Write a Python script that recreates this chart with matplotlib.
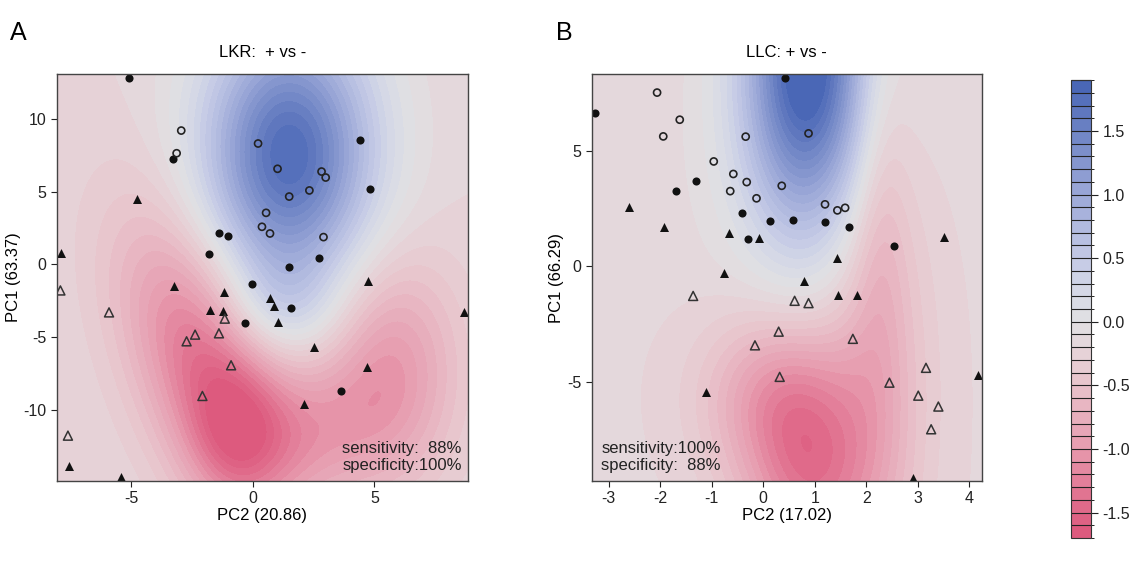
import numpy as np
import matplotlib
matplotlib.use("Agg")
import matplotlib.pyplot as plt
from matplotlib.colors import LinearSegmentedColormap, BoundaryNorm

plt.rcParams['font.family'] = ['Liberation Sans', 'DejaVu Sans']
plt.rcParams['axes.unicode_minus'] = False

# ---- panel A (LKR) points ----
a_fc_x = [-5.08, -3.28, 4.42, 4.83, -1.39, -1.00, -1.81, 2.74, 1.50, -0.04, 1.56, -0.30, 3.62]
a_fc_y = [12.81, 7.24, 8.59, 5.18, 2.15, 1.99, 0.73, 0.46, -0.21, -1.35, -2.98, -4.06, -8.68]
a_oc_x = [-2.94, -3.13, 0.22, 1.02, 2.83, 3.00, 2.33, 1.50, 0.55, 0.38, 0.71, 2.91]
a_oc_y = [9.21, 7.65, 8.32, 6.58, 6.39, 5.98, 5.09, 4.67, 3.55, 2.59, 2.13, 1.88]
a_ft_x = [-4.76, -7.87, -3.22, 4.75, -1.17, -1.77, -1.23, 0.71, 0.88, 1.03, 8.70, 2.50, 4.68, 2.10, -7.57, -5.40]
a_ft_y = [4.49, 0.82, -1.47, -1.15, -1.90, -3.12, -3.18, -2.29, -2.86, -3.99, -3.30, -5.70, -7.08, -9.62, -13.84, -14.64]
a_ot_x = [-7.91, -5.91, -1.15, -2.37, -2.72, -1.39, -0.89, -2.07, -7.60]
a_ot_y = [-1.79, -3.30, -3.73, -4.83, -5.29, -4.74, -6.94, -9.05, -11.78]

# ---- panel B (LLC) points ----
b_fc_x = [0.42, -3.26, -1.31, -1.70, -0.42, 0.13, 0.57, 1.20, 1.66, -0.30, 2.54]
b_fc_y = [8.14, 6.60, 3.68, 3.25, 2.30, 1.97, 2.00, 1.94, 1.70, 1.17, 0.89]
b_oc_x = [-2.06, -1.62, -1.94, -0.34, 0.88, -0.96, -0.58, -0.32, -0.64, -0.13, 0.36, 1.20, 1.44, 1.59]
b_oc_y = [7.50, 6.33, 5.61, 5.60, 5.74, 4.53, 3.99, 3.64, 3.25, 2.94, 3.48, 2.68, 2.42, 2.53]
b_ft_x = [-2.61, -1.92, -0.67, -0.08, 3.51, 1.44, -0.77, 0.80, 1.45, 1.83, -1.12, 4.17, 2.91]
b_ft_y = [2.55, 1.70, 1.45, 1.22, 1.28, 0.35, -0.26, -0.62, -1.21, -1.24, -5.40, -4.68, -9.12]
b_ot_x = [-1.36, 0.61, 0.88, 0.30, -0.16, 1.74, 0.32, 2.45, 3.16, 3.01, 3.40, 3.26]
b_ot_y = [-1.27, -1.48, -1.58, -2.81, -3.40, -3.12, -4.76, -5.01, -4.37, -5.57, -6.04, -7.02]

# ---- background surfaces, described as bumps ----
# centre x, centre y, width x, width y, amplitude, tilt (dx per dy)
a_base = -0.2
a_bx = [1.5, 1.2, -1.9, -0.8, 5.6, 2.0]
a_by = [7.5, -3.0, -7.0, -12.0, -7.0, -11.5]
a_bsx = [2.45, 1.6, 2.1, 1.3, 2.0, 2.5]
a_bsy = [6.5, 2.5, 7.0, 3.5, 5.5, 3.5]
a_bamp = [2.0, 0.35, -1.2, -0.4, -0.8, -0.55]
a_btilt = [0.0, 0.0, -0.18, 0.0, 0.0, 0.0]

b_base = -0.18
b_bx = [0.85, 0.8, 0.9, 0.3, 2.2, 2.25]
b_by = [9.0, 5.0, -9.3, -5.5, -4.0, 3.0]
b_bsx = [0.85, 1.4, 0.9, 1.0, 0.75, 0.4]
b_bsy = [5.0, 4.5, 3.0, 2.5, 7.0, 6.0]
b_bamp = [2.1, 0.2, -0.95, -0.75, -0.45, -0.3]
b_btilt = [0.0, 0.0, 0.0, 0.0, 0.0, 0.0]

cbar_ticks = [-1.5, -1.0, -0.5, 0.0, 0.5, 1.0, 1.5]
levels = np.round(np.arange(-1.7, 1.95, 0.1), 2)

# colour anchors (value, colour)
cmap_vals = [-1.7, -1.5, -1.0, -0.5, -0.2, 0.0, 0.2, 0.5, 1.0, 1.5, 1.9]
cmap_cols = ["#dd5a7e", "#e06a8a", "#e79db0", "#e8c4cc", "#e5d6da", "#e0e0e2",
             "#d8dbe6", "#c4cae6", "#9eaad8", "#7186c6", "#4a67b6"]
cmap = LinearSegmentedColormap.from_list(
    "pc_cmap", [((v - cmap_vals[0]) / (cmap_vals[-1] - cmap_vals[0]), c)
                for v, c in zip(cmap_vals, cmap_cols)])
norm = BoundaryNorm(levels, cmap.N)


def surface(xlim, ylim, base, bx, by, bsx, bsy, bamp, btilt):
    gx = np.linspace(xlim[0], xlim[1], 300)
    gy = np.linspace(ylim[0], ylim[1], 300)
    X, Y = np.meshgrid(gx, gy)
    Z = np.full_like(X, base)
    for x0, y0, sx, sy, amp, t in zip(bx, by, bsx, bsy, bamp, btilt):
        xc = x0 + t * (Y - y0)
        Z += amp * np.exp(-0.5 * (((X - xc) / sx) ** 2 + ((Y - y0) / sy) ** 2))
    return X, Y, np.clip(Z, -1.69, 1.89)


def panel(ax, xlim, ylim, field, pts, title, xlab, ylab, xt, yt, note, note_right):
    X, Y, Z = field
    cs = ax.contourf(X, Y, Z, levels=levels, cmap=cmap, norm=norm)
    fc, oc, ft, ot = pts
    ax.scatter(*fc, s=34, c="#111111", marker="o", zorder=3, linewidths=0)
    ax.scatter(*oc, s=26, facecolors="none", edgecolors="#222222", marker="o", linewidths=1.2, zorder=3)
    ax.scatter(*ft, s=42, c="#111111", marker="^", zorder=3, linewidths=0)
    ax.scatter(*ot, s=42, facecolors="none", edgecolors="#333333", marker="^", linewidths=1.1, zorder=3)
    ax.set_xlim(xlim)
    ax.set_ylim(ylim)
    ax.set_xticks(xt)
    ax.set_yticks(yt)
    ax.set_xticklabels([str(v) for v in xt])
    ax.set_yticklabels([str(v) for v in yt])
    ax.tick_params(direction="out", length=4, width=0.8, labelsize=11.5, colors="#222222")
    for s in ax.spines.values():
        s.set_edgecolor("#444444")
        s.set_linewidth(1.0)
        s.set_zorder(5)
    ax.set_title(title, fontsize=12, pad=12)
    ax.set_xlabel(xlab, fontsize=12, labelpad=1)
    ax.set_ylabel(ylab, fontsize=12, labelpad=2)
    if note_right:
        ax.text(0.985, 0.02, note, transform=ax.transAxes, ha="right", va="bottom",
                fontsize=12, color="#222222", linespacing=1.15, zorder=4)
    else:
        ax.text(0.025, 0.02, note, transform=ax.transAxes, ha="left", va="bottom",
                fontsize=12, color="#222222", linespacing=1.15, zorder=4)
    return cs


fig = plt.figure(figsize=(11.33, 5.66), dpi=100)
ax_a = fig.add_axes([0.0503, 0.1502, 0.3627, 0.719])
ax_b = fig.add_axes([0.5222, 0.1502, 0.3442, 0.719])
cax = fig.add_axes([0.945, 0.0495, 0.0177, 0.809])

a_xlim, a_ylim = (-8.05, 8.85), (-14.9, 13.1)
b_xlim, b_ylim = (-3.33, 4.24), (-9.25, 8.3)

panel(ax_a, a_xlim, a_ylim,
      surface(a_xlim, a_ylim, a_base, a_bx, a_by, a_bsx, a_bsy, a_bamp, a_btilt),
      ((a_fc_x, a_fc_y), (a_oc_x, a_oc_y), (a_ft_x, a_ft_y), (a_ot_x, a_ot_y)),
      "LKR:  + vs -", "PC2 (20.86)", "PC1 (63.37)", [-5, 0, 5], [-10, -5, 0, 5, 10],
      "sensitivity:  88%\nspecificity:100%", True)
cs = panel(ax_b, b_xlim, b_ylim,
           surface(b_xlim, b_ylim, b_base, b_bx, b_by, b_bsx, b_bsy, b_bamp, b_btilt),
           ((b_fc_x, b_fc_y), (b_oc_x, b_oc_y), (b_ft_x, b_ft_y), (b_ot_x, b_ot_y)),
           "LLC: + vs -", "PC2 (17.02)", "PC1 (66.29)", [-3, -2, -1, 0, 1, 2, 3, 4], [-5, 0, 5],
           "sensitivity:100%\nspecificity:  88%", False)

cb = fig.colorbar(cs, cax=cax, drawedges=True, ticks=cbar_ticks)
cb.ax.set_yticklabels([f"{v:.1f}" for v in cbar_ticks])
cb.ax.tick_params(direction="out", length=5, width=0.8, labelsize=11.5, colors="#222222")
cb.outline.set_edgecolor("#333333")
cb.dividers.set_color("#222222")
cb.dividers.set_linewidth(0.8)

fig.text(0.009, 0.93, "A", fontsize=18, ha="left", va="baseline")
fig.text(0.491, 0.93, "B", fontsize=18, ha="left", va="baseline")

fig.savefig("out.png", dpi=100)
